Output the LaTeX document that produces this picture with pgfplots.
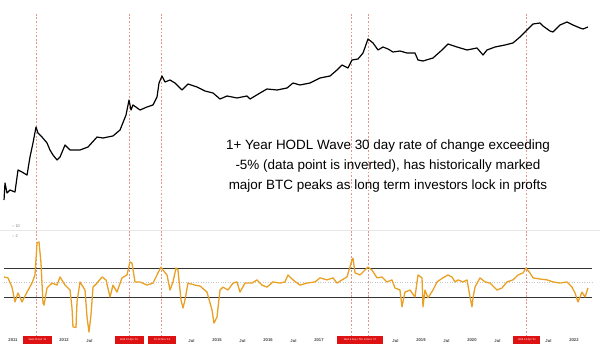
\documentclass[border=0pt]{standalone}
\usepackage{pgfplots}
\pgfplotsset{compat=1.18}
\usepackage{fontspec}
\setmainfont{Liberation Sans}
\definecolor{hodl}{RGB}{234,160,36}
\definecolor{peakred}{RGB}{226,150,138}
\definecolor{flagred}{RGB}{222,18,18}
\definecolor{ticktxt}{RGB}{70,70,70}
\begin{document}
\begin{tikzpicture}
\useasboundingbox (0,0) rectangle (600bp,351bp);
\fill[white] (0,0) rectangle (600bp,351bp);
% ---------------- price panel (log scale) ----------------
\begin{axis}[
  at={(0,131bp)}, anchor=south west,
  scale only axis, width=600bp, height=211bp,
  xmin=2010.745, xmax=2022.510,
  ymode=log, ymin=0.02489, ymax=159500,
  axis line style={draw=none}, xtick=\empty, ytick=\empty,
  clip=false,
]
\foreach \xv in {2011.465,2013.275,2013.916,2017.641,2017.967,2021.073}{
  \edef\tmp{\noexpand\draw[peakred, line width=0.75pt, dash pattern=on 1.8pt off 1.8pt]
    (axis cs:\xv,0.02489) -- (axis cs:\xv,120000);}\tmp
}
\addplot[black, line width=1.2pt, line join=round] table {
2010.824 0.110
2010.843 0.389
2010.882 0.185
2010.941 0.231
2011.039 0.199
2011.098 1.02
2011.176 0.88
2011.275 0.70
2011.333 2.68
2011.392 7.6
2011.451 24.9
2011.490 15.9
2011.569 11.8
2011.667 7.6
2011.725 4.51
2011.784 3.11
2011.863 2.15
2011.922 2.68
2012.020 6.54
2012.118 4.51
2012.314 4.51
2012.471 5.64
2012.647 11.8
2012.765 11.0
2012.961 12.8
2013.098 19.9
2013.216 60.7
2013.275 185
2013.314 88
2013.353 128
2013.490 88
2013.627 110
2013.745 128
2013.824 231
2013.863 654
2013.922 1100
2013.980 704
2014.078 817
2014.176 654
2014.314 389
2014.431 607
2014.608 486
2014.765 361
2014.922 311
2015.059 199
2015.196 249
2015.392 215
2015.588 249
2015.647 199
2015.843 311
2015.980 419
2016.176 389
2016.373 451
2016.490 654
2016.627 564
2016.824 654
2017.020 948
2017.216 1100
2017.353 1718
2017.451 2490
2017.569 1992
2017.647 3610
2017.765 3890
2017.863 6070
2017.961 17200
2018.059 12800
2018.157 7590
2018.255 9480
2018.353 8170
2018.451 6540
2018.588 7040
2018.725 6070
2018.882 6070
2018.941 3610
2019.039 3350
2019.235 4190
2019.412 7590
2019.529 11850
2019.706 9480
2019.902 7590
2020.098 8810
2020.216 5230
2020.294 7590
2020.451 9480
2020.647 11000
2020.804 12800
2020.941 19950
2021.039 28900
2021.098 36100
2021.196 52300
2021.333 56400
2021.392 45100
2021.529 31100
2021.588 28900
2021.725 48600
2021.863 60700
2021.980 48600
2022.118 38900
2022.176 36100
2022.275 41900
};
\end{axis}
% ---------------- HODL wave rate of change panel ----------------
\begin{axis}[
  at={(0,14bp)}, anchor=south west,
  scale only axis, width=600bp, height=117bp,
  xmin=2010.745, xmax=2022.510,
  ymin=-18.79, ymax=21.55,
  axis line style={draw=none}, ytick=\empty,
  xtick={2011,2012,2012.5,2014.5,2015,2015.5,2016,2016.5,2017,2018.5,2019,2019.5,2020,2020.5,2021.5,2022},
  xticklabels={2011,2012,Jul,Jul,2015,Jul,2016,Jul,2017,Jul,2019,Jul,2020,Jul,Jul,2022},
  major tick length=0pt,
  xticklabel style={font=\fontsize{4.2}{5}\selectfont\bfseries, text=ticktxt, yshift=1.5bp},
  clip=false,
]
\addplot[gray!18, line width=0.4pt] coordinates {(2010.745,18.1) (2022.51,18.1)};
\addplot[gray!45, line width=0.5pt, dash pattern=on 1pt off 1.5pt] coordinates {(2010.82,0) (2022.35,0)};
\addplot[black!80, line width=0.9pt] coordinates {(2010.82,5) (2022.35,5)};
\addplot[black!80, line width=0.9pt] coordinates {(2010.82,-5) (2022.35,-5)};
\foreach \xv in {2011.465,2013.275,2013.916,2017.641,2017.967,2021.073}{
  \edef\tmp{\noexpand\draw[peakred, line width=0.75pt, dash pattern=on 1.8pt off 1.8pt]
    (axis cs:\xv,21.55) -- (axis cs:\xv,-19.8);}\tmp
}
\addplot[hodl, line width=1.3pt, line join=round] table {
2010.824 1.9
2010.902 1.6
2010.980 -1.6
2011.039 -6.7
2011.098 -3.6
2011.176 -6.7
2011.275 -3.3
2011.373 -0.2
2011.431 2.6
2011.471 13.6
2011.510 14.0
2011.549 6.7
2011.588 -7.1
2011.608 -7.8
2011.667 -1.9
2011.765 -0.2
2011.863 -0.9
2011.922 1.9
2012.020 -0.9
2012.118 -2.6
2012.157 -8.8
2012.176 -15.3
2012.235 -15.5
2012.255 -6.7
2012.314 0.2
2012.412 -2.6
2012.451 -11.9
2012.490 -17.1
2012.529 -11.2
2012.569 -1.6
2012.647 -0.2
2012.745 1.9
2012.824 0.9
2012.902 -5.0
2012.961 -0.9
2013.039 -3.3
2013.137 1.6
2013.235 2.6
2013.294 7.1
2013.333 6.7
2013.392 0.2
2013.490 0.2
2013.627 -0.9
2013.745 -0.2
2013.843 3.3
2013.902 5.3
2013.941 4.3
2014.020 2.6
2014.078 -2.6
2014.137 0.2
2014.196 5.0
2014.235 4.3
2014.294 -6.0
2014.333 -8.8
2014.373 -6.0
2014.431 -0.2
2014.569 -0.9
2014.667 -1.2
2014.804 -3.3
2014.902 -9.5
2014.941 -14.0
2015.000 -11.9
2015.059 -2.6
2015.118 -1.6
2015.216 -2.6
2015.314 -0.2
2015.392 0.2
2015.451 -3.3
2015.549 -0.2
2015.686 -0.2
2015.784 0.9
2015.882 -0.9
2015.980 -1.6
2016.098 0.2
2016.235 -0.2
2016.333 0.2
2016.392 2.6
2016.490 0.9
2016.627 -0.9
2016.765 -0.2
2016.922 0.2
2017.020 1.6
2017.157 0.9
2017.275 1.6
2017.353 -0.2
2017.451 0.9
2017.549 1.9
2017.647 7.8
2017.667 8.4
2017.706 3.3
2017.804 2.6
2017.902 4.3
2017.961 5.3
2018.039 4.3
2018.137 1.6
2018.235 1.9
2018.333 0.2
2018.431 0.9
2018.490 -1.9
2018.588 -2.6
2018.627 -8.4
2018.686 -3.3
2018.784 -2.6
2018.882 -5.0
2018.941 2.6
2019.020 1.6
2019.039 -8.4
2019.078 -2.6
2019.137 -5.3
2019.235 -2.6
2019.314 0.2
2019.431 1.6
2019.529 2.6
2019.608 1.9
2019.667 0.2
2019.725 0.9
2019.824 0.2
2019.902 0.9
2019.961 -5.0
2020.000 -8.4
2020.020 -5.3
2020.059 -1.6
2020.157 1.6
2020.255 0.2
2020.353 -0.2
2020.490 -2.6
2020.588 -1.9
2020.686 0.2
2020.804 0.9
2020.902 2.6
2021.000 3.3
2021.059 5.0
2021.137 3.3
2021.196 1.6
2021.333 1.2
2021.471 0.9
2021.588 0.2
2021.725 -0.2
2021.863 0.2
2021.961 -1.6
2022.020 -3.6
2022.078 -6.7
2022.157 -3.3
2022.216 -5.0
2022.275 -1.9
};
% small scale labels
\node[anchor=west, text=gray, font=\fontsize{4}{5}\selectfont, inner sep=0] at (axis cs:2010.98,19.5) {-- 10};
\node[anchor=west, text=gray, font=\fontsize{4}{5}\selectfont, inner sep=0] at (axis cs:2010.98,16.0) {-- 2};
% date flags
\tikzset{flag/.style={fill=flagred, text=white, font=\fontsize{2.6}{3}\selectfont, inner sep=0, minimum height=8.5bp, align=center}}
\node[flag, minimum width=29bp] at (axis cs:2011.480,-19.8) {Wed 15 Jun '11};
\node[flag, minimum width=29bp] at (axis cs:2013.275,-19.8) {Wed 10 Apr '13};
\node[flag, minimum width=28bp] at (axis cs:2013.922,-19.8) {Fri 29 Nov '13};
\node[flag, minimum width=46bp] at (axis cs:2017.804,-19.8) {Wed 6 Sep / Thu 14 Dec '17};
\node[flag, minimum width=27bp] at (axis cs:2021.078,-19.8) {Wed 14 Apr '21};
\end{axis}
% annotation text
\node[align=center, font=\fontsize{13.5}{20.5}\selectfont, text=black] at (388bp,185bp)
 {1+ Year HODL Wave 30 day rate of change exceeding\\
  -5\% (data point is inverted), has historically marked\\
  major BTC peaks as long term investors lock in profts};
\end{tikzpicture}
\end{document}
